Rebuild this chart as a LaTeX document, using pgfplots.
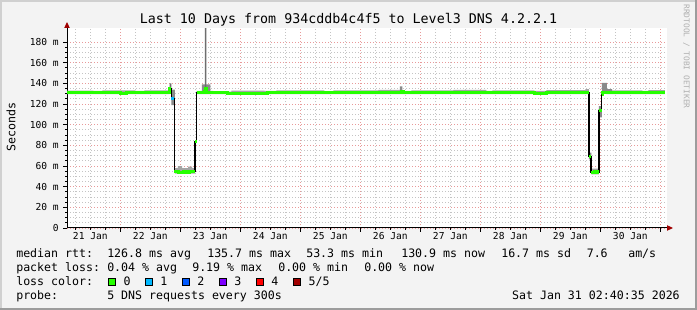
\documentclass[border=0pt]{standalone}
\usepackage{pgfplots}
\pgfplotsset{compat=1.18}
\usepackage{fontspec}
\setmainfont{DejaVu Sans Mono}
\usetikzlibrary{arrows.meta}
\definecolor{bgc}{HTML}{F3F3F3}
\definecolor{mgrid}{HTML}{E89A9A}
\definecolor{ngrid}{HTML}{C4C4C4}
\definecolor{lgreen}{HTML}{26FF00}
\definecolor{lcyan}{HTML}{00B8FF}
\definecolor{lblue}{HTML}{0059FF}
\definecolor{lpurple}{HTML}{7E00FF}
\definecolor{lred}{HTML}{FF0000}
\definecolor{ldred}{HTML}{A10000}
\definecolor{smokeA}{HTML}{A4A4A4}
\definecolor{smokeB}{HTML}{8A8A8A}
\definecolor{smokeC}{HTML}{6E6E6E}
\definecolor{arrowred}{HTML}{A00000}
\definecolor{wmark}{HTML}{B0B0B0}
\newcommand{\fs}[1]{\fontsize{#1}{#1}\selectfont}
\def\u{0.75pt}
\begin{document}
\begin{tikzpicture}
\useasboundingbox (0,0) rectangle (522.75pt,232.5pt);
\fill[bgc] (0,0) rectangle (522.75pt,232.5pt);
\draw[line width=1.5pt,color={rgb,255:red,208;green,208;blue,208}] (0.75pt,0) -- (0.75pt,231.75pt) -- (522.75pt,231.75pt);
\draw[line width=1.5pt,color={rgb,255:red,156;green,156;blue,156}] (0,0.75pt) -- (522pt,0.75pt) -- (522pt,232.5pt);
\begin{axis}[
  at={(67*\u,82*\u)}, anchor=south west,
  scale only axis, width=450pt, height=150pt,
  xmin=0.1115, xmax=10.1115, ymin=0, ymax=193.55,
  axis background/.style={fill=white},
  axis x line=bottom, axis y line=left,
  axis line style={black, line width=0.75pt, shorten >=-4.5pt, -{Triangle[length=4.5pt,width=4pt,color=arrowred]}},
  tick align=outside,
  major tick length=3pt, minor tick length=1.5pt,
  tick style={black, line width=0.5pt},
  xtick={1,2,3,4,5,6,7,8,9,10},
  xticklabels={},
  xmajorgrids, ymajorgrids, xminorgrids, yminorgrids,
  major grid style={mgrid, line width=0.6pt, dash pattern=on 0.75pt off 1.5pt},
  minor grid style={ngrid, line width=0.6pt, dash pattern=on 0.75pt off 1.5pt},
  minor xtick={0.25,0.5,0.75,1.25,1.5,1.75,2.25,2.5,2.75,3.25,3.5,3.75,4.25,4.5,4.75,5.25,5.5,5.75,6.25,6.5,6.75,7.25,7.5,7.75,8.25,8.5,8.75,9.25,9.5,9.75,10},
  extra x ticks={0.5,1.5,2.5,3.5,4.5,5.5,6.5,7.5,8.5,9.5},
  extra x tick labels={21 Jan,22 Jan,23 Jan,24 Jan,25 Jan,26 Jan,27 Jan,28 Jan,29 Jan,30 Jan},
  extra x tick style={grid=none, major tick length=0pt},
  xticklabel style={font=\fs{7.2}, inner sep=0pt, yshift=-3pt},
  ytick={0,20,40,60,80,100,120,140,160,180},
  yticklabels={0,20 m,40 m,60 m,80 m,100 m,120 m,140 m,160 m,180 m},
  minor y tick num=3,
  yticklabel style={font=\fs{7.2}, inner sep=0pt, xshift=-3pt},
  unbounded coords=jump,
]
% smoke: normal band
\addplot[fill=smokeA, draw=none] coordinates {
(0.1115,129.6) (0.1115,133.0) (0.55,133.0) (0.55,132.6) (0.7,132.6) (0.7,133.3) (1.25,133.3) (1.25,132.6) (1.4,132.6) (1.4,133.2) (1.82,133.2) (1.82,129.6)
(1.82,nan)
(2.27,129.6) (2.27,132.8) (2.55,132.8) (2.55,132.0) (2.85,132.0) (2.85,133.0) (3.4,133.0) (3.4,132.6) (3.6,132.6) (3.6,133.3) (4.4,133.3) (4.4,132.5) (4.55,132.5) (4.55,133.2) (5.3,133.2) (5.3,133.6) (5.7,133.6) (5.7,132.6) (5.85,132.6) (5.85,133.2) (6.55,133.2) (6.55,133.7) (7.1,133.7) (7.1,132.6) (7.2,132.6) (7.2,133.3) (7.9,133.3) (7.9,132.8) (8.1,132.8) (8.1,133.5) (8.81,133.5) (8.81,129.6)
(8.81,nan)
(9.10,129.6) (9.10,133.2) (9.7,133.2) (9.7,132.6) (9.8,132.6) (9.8,133.4) (10.078,133.4) (10.078,129.6)
};
% smoke: event areas
\addplot[fill=smokeA, draw=none] coordinates {
(1.911,52.5) (1.911,58) (1.96,58) (1.96,59.8) (2.03,59.8) (2.03,58) (2.13,58) (2.13,59.3) (2.195,59.3) (2.195,58) (2.245,58) (2.245,52.5)
(2.245,nan)
(8.853,52) (8.853,57.5) (8.978,57.5) (8.978,52)
(8.978,nan)
(8.76,130) (8.76,134.5) (8.811,134.5) (8.811,130)
};
\addplot[fill=smokeB, draw=none] coordinates {
(1.853,119) (1.853,134) (1.911,134) (1.911,119)
(1.911,nan)
(2.361,131) (2.361,139) (2.503,139) (2.503,131)
(2.503,nan)
(8.811,66.5) (8.811,73) (8.853,73) (8.853,66.5)
(8.853,nan)
(8.978,107) (8.978,118) (9.028,118) (9.028,107)
(9.028,nan)
(9.028,131) (9.028,140.5) (9.111,140.5) (9.111,131)
(9.111,nan)
(9.111,131) (9.111,134.5) (9.195,134.5) (9.195,131)
(9.195,nan)
(5.661,131) (5.661,137) (5.703,137) (5.703,131)
};
\addplot[fill=smokeC, draw=none] coordinates {
(1.820,131) (1.820,140) (1.853,140) (1.853,131)
(1.853,nan)
(2.411,131) (2.411,193.5) (2.436,193.5) (2.436,131)
};
% median path (black)
\addplot[const plot, black, line width=0.9pt] coordinates {
(0.1115,131) (0.3,131.3) (0.5,130.9) (0.65,131.4) (0.85,131.1) (1.0,130.6) (1.1,131) (1.3,131.4) (1.5,131.1) (1.65,131) (1.79,131.3) (1.820,134.5) (1.853,125) (1.90,54.5) (1.97,54) (2.05,55) (2.1,53.8) (2.16,54.6) (2.2,55) (2.245,84) (2.27,131) (2.40,131.8) (2.415,135) (2.44,131.5) (2.6,130.8) (2.78,130.2) (3.45,131) (3.7,131.3) (3.9,131) (4.1,131.4) (4.3,130.8) (4.5,131.2) (4.7,130.9) (4.9,131.3) (5.1,131) (5.3,130.7) (5.5,131.2) (5.68,131.8) (5.72,131) (5.9,130.8) (6.1,131.3) (6.3,131) (6.5,131.4) (6.7,130.9) (6.9,131.2) (7.1,130.7) (7.3,131) (7.5,131.3) (7.7,131) (7.9,130.6) (8.1,131.2) (8.3,131) (8.5,130.8) (8.7,131.2) (8.811,69.5) (8.844,54) (8.9,55) (8.95,53.5) (8.978,114) (9.023,129.5) (9.04,131.5) (9.2,131.2) (9.4,131) (9.6,131.4) (9.8,130.9) (10.0,131.2) (10.078,131.2)
};
% median coloured by loss
\addplot[const plot, lgreen, line width=2.3pt] coordinates {
(0.1115,131) (0.3,131.3) (0.5,130.9) (0.65,131.4) (0.85,131.1) (1.0,130.6) (1.1,131) (1.3,131.4) (1.5,131.1) (1.65,131) (1.79,131.3) (1.820,134.5) (1.853,134.5)
(1.853,nan)
(1.90,54.5) (1.97,54) (2.05,55) (2.1,53.8) (2.16,54.6) (2.2,55) (2.245,55)
(2.245,nan)
(2.245,84) (2.27,84)
(2.27,nan)
(2.27,131) (2.40,131.8) (2.415,135) (2.44,131.5) (2.6,130.8) (2.78,130.2) (3.45,131) (3.7,131.3) (3.9,131) (4.1,131.4) (4.3,130.8) (4.5,131.2) (4.7,130.9) (4.9,131.3) (5.1,131) (5.3,130.7) (5.5,131.2) (5.68,131.8) (5.72,131) (5.9,130.8) (6.1,131.3) (6.3,131) (6.5,131.4) (6.7,130.9) (6.9,131.2) (7.1,130.7) (7.3,131) (7.5,131.3) (7.7,131) (7.9,130.6) (8.1,131.2) (8.3,131) (8.5,130.8) (8.7,131.2) (8.811,131.2)
(8.811,nan)
(8.811,69.5) (8.844,69.5)
(8.844,nan)
(8.844,54) (8.9,55) (8.95,53.5) (8.978,53.5)
(8.978,nan)
(8.978,114) (9.023,114)
(9.023,nan)
(9.023,129.5) (9.04,131.5) (9.2,131.2) (9.4,131) (9.6,131.4) (9.8,130.9) (10.0,131.2) (10.078,131.2)
};
\addplot[const plot, lcyan, line width=2.3pt] coordinates {(1.853,125) (1.895,125)};
\end{axis}
% title
\node[anchor=base, inner sep=0pt, font=\fs{10}] at (348.5*\u, 286*\u) {Last 10 Days from 934cddb4c4f5 to Level3 DNS 4.2.2.1};
% y label
\node[rotate=90, inner sep=0pt, font=\fs{8.7}] at (11*\u, 183*\u) {Seconds};
% watermark
\node[rotate=-90, inner sep=0pt, font=\fs{5.9}, text=wmark] at (686.5*\u, 253.5*\u) {RRDTOOL / TOBI OETIKER};
% legend
\begin{scope}[every node/.style={anchor=base west, inner sep=0pt, font=\fs{8.7}}]
\node at (16*\u, 52.7*\u) {median rtt:};
\node at (107*\u, 52.7*\u) {126.8 ms avg};
\node at (207*\u, 52.7*\u) {135.7 ms max};
\node at (306*\u, 52.7*\u) {53.3 ms min};
\node at (401*\u, 52.7*\u) {130.9 ms now};
\node at (501*\u, 52.7*\u) {16.7 ms sd};
\node at (586.5*\u, 52.7*\u) {7.6};
\node at (628*\u, 52.7*\u) {am/s};
\node at (16*\u, 38.5*\u) {packet loss:};
\node at (107*\u, 38.5*\u) {0.04 \% avg};
\node at (192*\u, 38.5*\u) {9.19 \% max};
\node at (278*\u, 38.5*\u) {0.00 \% min};
\node at (364*\u, 38.5*\u) {0.00 \% now};
\node at (16*\u, 24.5*\u) {loss color:};
\node at (123.3*\u, 24.5*\u) {0};
\node at (160*\u, 24.5*\u) {1};
\node at (197*\u, 24.5*\u) {2};
\node at (234*\u, 24.5*\u) {3};
\node at (271*\u, 24.5*\u) {4};
\node at (308.3*\u, 24.5*\u) {5/5};
\node at (16*\u, 10.5*\u) {probe:};
\node at (107*\u, 10.5*\u) {5 DNS requests every 300s};
\node[anchor=base east] at (680*\u, 10.5*\u) {Sat Jan 31 02:40:35 2026};
\end{scope}
\foreach \xx/\cc in {108.5/lgreen,145.5/lcyan,182.5/lblue,219.5/lpurple,256.5/lred,293.5/ldred}{
  \filldraw[fill=\cc, draw=black, line width=0.6pt] (\xx*\u, 24.8*\u) rectangle ({(\xx+7.2)*\u}, 32*\u);
}
\end{tikzpicture}
\end{document}
